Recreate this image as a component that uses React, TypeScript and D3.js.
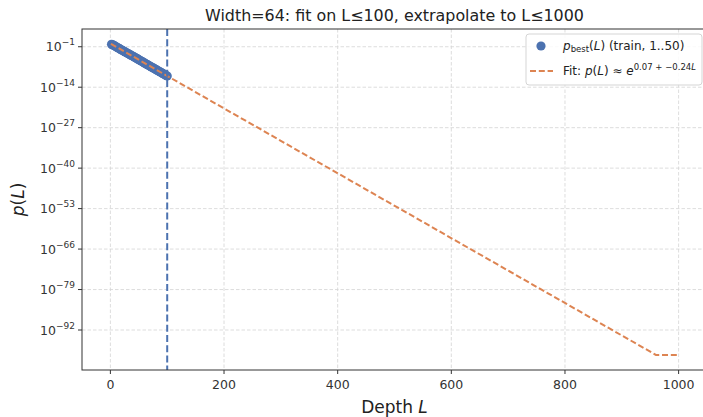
import React, { useEffect, useRef } from 'react';
import * as d3 from 'd3';

// observed best probability, log10 scale, at depth L (train points)
const trainDepth = [2, 4, 6, 8, 10, 12, 14, 16, 18, 20, 22, 24, 26, 28, 30, 32, 34, 36, 38, 40,
  42, 44, 46, 48, 50, 52, 54, 56, 58, 60, 62, 64, 66, 68, 70, 72, 74, 76, 78, 80,
  82, 84, 86, 88, 90, 92, 94, 96, 98, 100];
const trainLog10 = [-0.20, -0.40, -0.55, -0.80, -1.00, -1.22, -1.40, -1.62, -1.85, -2.05,
  -2.25, -2.45, -2.66, -2.88, -3.10, -3.28, -3.50, -3.70, -3.90, -4.08,
  -4.30, -4.50, -4.70, -4.92, -5.15, -5.35, -5.58, -5.78, -6.00, -6.22,
  -6.45, -6.65, -6.85, -7.05, -7.28, -7.50, -7.70, -7.90, -8.10, -8.32,
  -8.52, -8.75, -8.95, -9.15, -9.38, -9.58, -9.78, -10.00, -10.20, -10.40];

// fitted line (straight in log space, clipped at 1e-100)
const fitDepth = [1, 960, 1000];
const fitLog10 = [-0.07, -100, -100];

const xTicks = [0, 200, 400, 600, 800, 1000];
const yTickExp = [-1, -14, -27, -40, -53, -66, -79, -92];

const fitLimit = 100;

function draw(ref: React.RefObject<SVGSVGElement | null>) {
  const W = 703, H = 417;
  const m = { left: 82, top: 29, right: 707, bottom: 370 };
  const blue = '#4c72b0', orange = '#dd8452';
  const font = 'DejaVu Sans, sans-serif';

  const svg = d3.select(ref.current);
  svg.selectAll('*').remove();
  svg.attr('width', W).attr('height', H);

  const x = d3.scaleLinear().domain([-49.95, 1049.95]).range([m.left, m.right]);
  const y = d3.scaleLog().domain([Math.pow(10, -104.85), Math.pow(10, 4.7)]).range([m.bottom, m.top]);

  svg.append('rect').attr('width', W).attr('height', H).attr('fill', 'white');

  // grid
  const grid = svg.append('g').attr('stroke', '#d4d4d4').attr('stroke-width', 0.8)
    .attr('stroke-dasharray', '3.5,2');
  xTicks.forEach(t => grid.append('line')
    .attr('x1', x(t)).attr('x2', x(t)).attr('y1', m.top).attr('y2', m.bottom));
  yTickExp.forEach(e => grid.append('line')
    .attr('x1', m.left).attr('x2', m.right)
    .attr('y1', y(Math.pow(10, e))).attr('y2', y(Math.pow(10, e))));

  // fit line
  const line = d3.line<number>()
    .x((_, i) => x(fitDepth[i]))
    .y((_, i) => y(Math.pow(10, fitLog10[i])));

  // train points
  svg.append('g').selectAll('circle')
    .data(trainDepth)
    .join('circle')
    .attr('cx', d => x(d))
    .attr('cy', (_, i) => y(Math.pow(10, trainLog10[i])))
    .attr('r', 4.6)
    .attr('fill', blue);

  svg.append('path')
    .attr('d', line(fitDepth))
    .attr('fill', 'none')
    .attr('stroke', orange)
    .attr('stroke-width', 2)
    .attr('stroke-dasharray', '6,2.8');

  // fit limit
  svg.append('line')
    .attr('x1', x(fitLimit)).attr('x2', x(fitLimit))
    .attr('y1', m.top).attr('y2', m.bottom)
    .attr('stroke', blue).attr('stroke-width', 2)
    .attr('stroke-dasharray', '7,3.2');

  // spines
  svg.append('rect')
    .attr('x', m.left).attr('y', m.top)
    .attr('width', m.right - m.left).attr('height', m.bottom - m.top)
    .attr('fill', 'none').attr('stroke', '#333').attr('stroke-width', 1);

  // x ticks
  const xt = svg.append('g');
  xTicks.forEach(t => {
    xt.append('line').attr('x1', x(t)).attr('x2', x(t))
      .attr('y1', m.bottom).attr('y2', m.bottom + 4).attr('stroke', '#333');
    xt.append('text').attr('x', x(t)).attr('y', m.bottom + 19)
      .attr('text-anchor', 'middle').attr('font-family', font).attr('font-size', 12.5)
      .attr('fill', '#333').text(t);
  });

  // y ticks
  const yt = svg.append('g');
  yTickExp.forEach(e => {
    const yy = y(Math.pow(10, e));
    yt.append('line').attr('x1', m.left - 4).attr('x2', m.left)
      .attr('y1', yy).attr('y2', yy).attr('stroke', '#333');
    const tx = yt.append('text').attr('x', m.left - 7).attr('y', yy + 4.5)
      .attr('text-anchor', 'end').attr('font-family', font).attr('font-size', 12.5)
      .attr('fill', '#333');
    tx.append('tspan').text('10');
    tx.append('tspan').attr('dy', -6).attr('font-size', 9).text('\u2212' + Math.abs(e));
  });

  // title and labels
  svg.append('text').attr('x', (m.left + m.right) / 2).attr('y', 21)
    .attr('text-anchor', 'middle').attr('font-family', font).attr('font-size', 15.9)
    .attr('fill', '#222').text('Width=64: fit on L\u2264100, extrapolate to L\u22641000');

  const xl = svg.append('text').attr('x', (m.left + m.right) / 2).attr('y', 413)
    .attr('text-anchor', 'middle').attr('font-family', font).attr('font-size', 17)
    .attr('fill', '#222');
  xl.append('tspan').text('Depth ');
  xl.append('tspan').attr('font-style', 'italic').text('L');

  const yl = svg.append('text')
    .attr('transform', `translate(24, ${(m.top + m.bottom) / 2}) rotate(-90)`)
    .attr('text-anchor', 'middle').attr('font-family', font).attr('font-size', 17)
    .attr('fill', '#222');
  yl.append('tspan').attr('font-style', 'italic').text('p');
  yl.append('tspan').text('(');
  yl.append('tspan').attr('font-style', 'italic').text('L');
  yl.append('tspan').text(')');

  // legend
  const lg = svg.append('g');
  lg.append('rect').attr('x', 526).attr('y', 34).attr('width', 176).attr('height', 51)
    .attr('rx', 3).attr('fill', 'white').attr('fill-opacity', 0.85)
    .attr('stroke', '#d5d5d5');
  lg.append('circle').attr('cx', 541).attr('cy', 46).attr('r', 4.6).attr('fill', blue);
  const t1 = lg.append('text').attr('x', 563).attr('y', 50)
    .attr('font-family', font).attr('font-size', 12).attr('fill', '#222');
  t1.append('tspan').attr('font-style', 'italic').text('p');
  t1.append('tspan').attr('font-size', 8.5).attr('dy', 2).text('best');
  t1.append('tspan').attr('dy', -2).text('(');
  t1.append('tspan').attr('font-style', 'italic').text('L');
  t1.append('tspan').text(') (train, 1..50)');

  lg.append('line').attr('x1', 530).attr('x2', 553).attr('y1', 71).attr('y2', 71)
    .attr('stroke', orange).attr('stroke-width', 2).attr('stroke-dasharray', '6,2.8');
  const t2 = lg.append('text').attr('x', 563).attr('y', 75)
    .attr('font-family', font).attr('font-size', 12).attr('fill', '#222');
  t2.append('tspan').text('Fit: ');
  t2.append('tspan').attr('font-style', 'italic').text('p');
  t2.append('tspan').text('(');
  t2.append('tspan').attr('font-style', 'italic').text('L');
  t2.append('tspan').text(') \u2248 ');
  t2.append('tspan').attr('font-style', 'italic').text('e');
  t2.append('tspan').attr('font-size', 8.5).attr('dy', -5).text('0.07 + \u22120.24');
  t2.append('tspan').attr('font-size', 8.5).attr('font-style', 'italic').text('L');
}

export default function App() {
  const ref = useRef<SVGSVGElement>(null);
  useEffect(() => { draw(ref); }, []);
  return (
    <svg ref={ref} style={{ position: 'absolute', left: 0, top: 0, display: 'block' }} />
  );
}
